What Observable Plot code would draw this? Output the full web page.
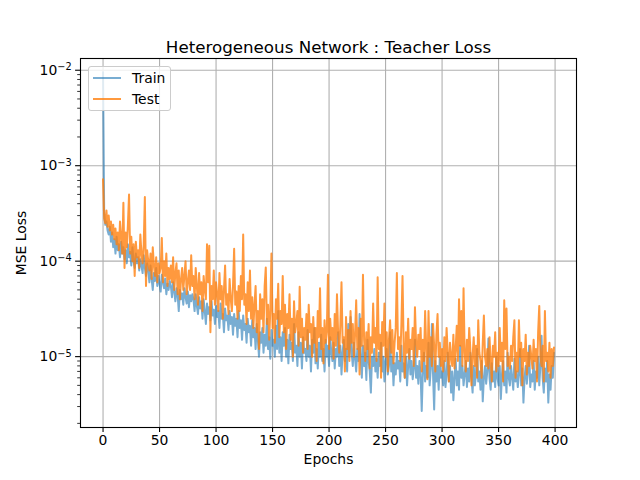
<!DOCTYPE html>
<html>
<head>
<meta charset="utf-8">
<script src="https://cdn.jsdelivr.net/npm/d3@7"></script>
<script src="https://cdn.jsdelivr.net/npm/@observablehq/plot@0.6"></script>
<style>
  html, body { margin: 0; padding: 0; background: #fff; }
  #wrap { position: relative; width: 640px; height: 480px; font-family: "DejaVu Sans", sans-serif; }
  #legend {
    position: absolute; left: 88px; top: 66px; width: 83px; height: 45px;
    background: rgba(255,255,255,0.8); border: 1px solid #cccccc; border-radius: 3px;
    box-sizing: border-box; font-size: 13.9px; color: #000;
  }
  .row { position: absolute; left: 4px; height: 16px; display: flex; align-items: center; }
  .sw { width: 28px; height: 0; border-top: 2px solid; margin-right: 11px; }
</style>
</head>
<body>
<div id="wrap"></div>
<script>
// ---- data (loss values in units of 1e-6) ----
const seriesNames = ["Train", "Test"];
const seriesColors = ["#1f77b4", "#ff7f0e"];
const unit = 1e-6;

const trainLoss = [
  9500, 320, 240, 260, 210, 190, 230, 160, 200, 140, 170, 120, 180, 130, 150, 110, 160, 120, 140, 105,
  130, 95, 150, 110, 125, 90, 140, 100, 85, 120, 95, 110, 80, 105, 90, 75, 115, 85, 70, 95,
  80, 60, 90, 65, 50, 75, 62, 85, 55, 70, 58, 48, 72, 60, 52, 66, 45, 58, 50, 62,
  55, 42, 60, 48, 38, 52, 44, 30, 50, 40, 46, 35, 52, 42, 36, 48, 33, 44, 38, 45,
  40, 30, 45, 34, 28, 42, 32, 38, 25, 40, 30, 22, 36, 28, 33, 24, 38, 27, 31, 22,
  34, 26, 30, 20, 36, 25, 28, 18, 32, 24, 27, 19, 30, 22, 26, 17, 28, 21, 25, 16,
  30, 20, 24, 15, 27, 19, 22, 14, 25, 18, 21, 13, 24, 16, 20, 12, 22, 15, 10, 18,
  14, 20, 11, 17, 13, 25, 12, 16, 9.5, 19, 13, 15, 10, 21, 12, 30, 11, 16, 9, 18,
  13, 20, 10, 15, 8.5, 17, 12, 14, 9, 22, 11, 13, 8, 18, 10, 14, 7.5, 16, 11, 12,
  9, 19, 10, 13, 7, 15, 11, 20, 8.5, 12, 7.5, 14, 10, 17, 9, 12, 7, 15, 10, 13,
  8, 16, 11, 9, 14, 7.5, 12, 10, 18, 8, 13, 6.5, 11, 15, 9, 12, 7, 22, 10, 26,
  11, 8, 14, 9.5, 7, 12, 9, 28, 10, 6, 13, 8, 11, 5.7, 15, 9, 7, 4.2, 10, 8,
  12, 7, 9.5, 6, 11, 8, 14, 7, 10, 5.5, 9, 12, 6.5, 8, 18, 7, 10, 5, 8.5, 6.5,
  11, 7.5, 9, 5.5, 13, 7, 8.5, 6, 10, 5, 8, 12, 6.5, 9, 5.8, 7.5, 15, 6, 8, 5.2,
  9, 6.5, 2.7, 7, 11, 5.5, 8, 6, 14, 5, 7.5, 22, 6.5, 2.8, 9, 5.5, 8, 4.5, 10, 6,
  7, 5, 9, 4.8, 6.5, 11, 5.5, 8, 4.2, 7, 3.5, 6, 9.5, 5, 7, 4.5, 13, 6, 8, 5,
  6.5, 9, 4.8, 7.5, 5.5, 11, 6, 4.2, 8, 5, 6.5, 12, 5.5, 7, 4.5, 9, 3.4, 6, 8, 5.2,
  7, 15.5, 6, 4.5, 8.5, 5.5, 7, 4.8, 10, 6, 5, 8, 3.6, 6.5, 9, 5, 7, 4.2, 11, 6,
  5, 8, 6, 4.5, 9.5, 5.5, 7, 4.8, 6.5, 12, 5, 7.5, 3.3, 6, 8, 5.2, 7, 13, 4.8, 6.5,
  5.5, 9, 4.5, 7, 6, 10, 5, 8, 16.5, 6, 4.2, 7.5, 5.5, 9, 3.3, 6.5, 4.5, 8, 6, 11
];

const testLoss = [
  720, 280, 250, 340, 230, 300, 210, 260, 190, 240, 170, 220, 150, 200, 130, 260, 180, 120, 410, 85,
  200, 140, 240, 500, 120, 180, 100, 150, 70, 160, 110, 130, 85, 190, 120, 95, 150, 470, 55, 130,
  100, 80, 120, 65, 140, 90, 70, 110, 60, 95, 75, 85, 175, 60, 100, 70, 120, 55, 85, 65,
  90, 60, 110, 50, 75, 95, 45, 80, 40, 65, 85, 50, 70, 100, 45, 60, 80, 50, 115, 55,
  70, 40, 85, 55, 35, 75, 45, 60, 30, 70, 50, 40, 150, 60, 145, 18, 55, 40, 80, 35,
  60, 45, 30, 75, 40, 55, 25, 50, 90, 35, 45, 28, 65, 40, 30, 55, 135, 35, 48, 25,
  55, 30, 70, 40, 190, 35, 45, 22, 60, 30, 80, 25, 42, 20, 35, 55, 18, 30, 12, 45,
  25, 40, 18, 55, 86, 22, 35, 15, 30, 120, 20, 28, 14, 40, 25, 58, 16, 30, 22, 70,
  18, 35, 12, 28, 20, 45, 15, 25, 10, 38, 18, 22, 30, 13, 54, 16, 25, 11, 20, 15,
  28, 12, 35, 18, 22, 10, 26, 14, 20, 9, 30, 16, 52, 12, 20, 8.5, 24, 14, 18, 72,
  12, 25, 15, 20, 9.5, 28, 13, 45, 18, 11, 22, 60, 14, 16, 7, 26, 12, 19, 9, 30,
  14, 22, 10, 17, 39, 12, 20, 6.5, 25, 13, 72, 15, 9, 18, 12, 22, 7.5, 16, 11, 36,
  14, 20, 9, 68, 12, 17, 6, 23, 13, 36, 10, 18, 7, 15, 24, 11, 19, 8.5, 14, 20,
  75, 12, 16, 9, 22, 70, 13, 6, 18, 11, 25, 9.5, 15, 12, 20, 8, 33, 14, 10, 17,
  12, 20, 7, 15, 9, 30, 12, 5.8, 30, 10, 16, 8, 22, 13, 7, 17, 28, 10, 14, 8,
  12, 7, 16, 9, 20, 11, 5.5, 14, 10, 8, 17, 7.5, 12, 21, 9, 40, 13, 30, 8, 52,
  11, 7, 15, 9, 20, 12, 5, 10, 16, 8, 13, 6, 24, 11, 9, 6, 14, 27, 10, 8,
  12, 7.5, 16, 9, 5.5, 13, 10, 18, 7, 11, 8, 20, 9, 14, 5.5, 39, 12, 32, 8, 10,
  7.5, 13, 9, 16, 24, 6, 11, 7, 24, 10, 14, 5, 12, 9, 17, 6.5, 11, 8, 13, 10,
  7.5, 15, 9, 12, 5.5, 18, 34, 10, 8, 13, 5.5, 30, 9, 11, 7, 14, 6, 12, 8, 12.5
];

const xTicks = [0, 50, 100, 150, 200, 250, 300, 350, 400];
const yTicks = [1e-5, 1e-4, 1e-3, 1e-2];
const yTickBase = "10";
const yTickExponents = ["\u22125", "\u22124", "\u22123", "\u22122"];
const titleText = "Heterogeneous Network : Teacher Loss";
const xLabel = "Epochs";
const yLabel = "MSE Loss";

// ---- build tables ----
const train = trainLoss.map((v, i) => ({epoch: i, loss: v * unit}));
const test = testLoss.map((v, i) => ({epoch: i, loss: v * unit}));
const n = trainLoss.length;
const xPad = (n - 1) * 0.05;

const yMinor = [];
for (let e = -6; e <= -2; e++) for (let m = 2; m <= 9; m++) {
  const v = m * Math.pow(10, e);
  if (v > 1.81e-6 && v < 0.01327) yMinor.push(v);
}

const yIndex = d => {
  let k = 0;
  for (let i = 1; i < yTicks.length; i++) {
    if (Math.abs(Math.log10(d) - Math.log10(yTicks[i])) < Math.abs(Math.log10(d) - Math.log10(yTicks[k]))) k = i;
  }
  return k;
};
const yFmt = d => yTickBase + "^" + yTickExponents[yIndex(d)];

const font = "DejaVu Sans, sans-serif";

const chart = Plot.plot({
  width: 640,
  height: 480,
  marginLeft: 80,
  marginRight: 64,
  marginTop: 58,
  marginBottom: 53,
  style: {fontFamily: font, fontSize: "13.9px", color: "#000", background: "#fff"},
  x: {domain: [-xPad, n - 1 + xPad]},
  y: {type: "log", domain: [1.81e-6, 0.01327]},
  marks: [
    Plot.gridX(xTicks, {stroke: "#b0b0b0", strokeOpacity: 1, strokeWidth: 1.1}),
    Plot.gridY(yTicks, {stroke: "#b0b0b0", strokeOpacity: 1, strokeWidth: 1.1}),
    Plot.lineY(train, {x: "epoch", y: "loss", stroke: seriesColors[0], strokeOpacity: 0.6, strokeWidth: 2}),
    Plot.lineY(test, {x: "epoch", y: "loss", stroke: seriesColors[1], strokeOpacity: 0.8, strokeWidth: 2}),
    Plot.frame({stroke: "#000", strokeWidth: 1.1}),
    Plot.axisY({ticks: yMinor, tickSize: 2.8, tickFormat: () => "", label: null, strokeWidth: 0.8}),
    Plot.axisX({ticks: xTicks, tickSize: 4.9, tickPadding: 3, tickFormat: d => String(d),
      label: xLabel, labelAnchor: "center", labelArrow: "none", labelOffset: 36,
      fontSize: 13.9, strokeWidth: 1.1}),
    Plot.axisY({ticks: yTicks, tickSize: 4.9, tickPadding: 4, tickFormat: yFmt,
      label: yLabel, labelAnchor: "center", labelArrow: "none", labelOffset: 64,
      fontSize: 13.9, strokeWidth: 1.1}),
    Plot.text([titleText], {frameAnchor: "top", dy: -17, fontSize: 16.7, fill: "#000"})
  ]
});

// render "10^-k" tick labels with a real superscript tspan
chart.querySelectorAll("text").forEach(t => {
  const s = t.textContent;
  if (s.startsWith(yTickBase + "^")) {
    const exp = s.slice(yTickBase.length + 1);
    t.textContent = "";
    const ns = "http://www.w3.org/2000/svg";
    const a = document.createElementNS(ns, "tspan");
    a.textContent = yTickBase;
    const b = document.createElementNS(ns, "tspan");
    b.textContent = exp;
    b.setAttribute("dy", "-0.45em");
    b.setAttribute("font-size", "70%");
    t.appendChild(a);
    t.appendChild(b);
  }
});

const wrap = document.getElementById("wrap");
wrap.appendChild(chart);

// legend (HTML overlay, like matplotlib's upper-left legend)
const lg = document.createElement("div");
lg.id = "legend";
seriesNames.forEach((name, i) => {
  const r = document.createElement("div");
  r.className = "row";
  r.style.top = (3 + i * 20.5) + "px";
  const s = document.createElement("div");
  s.className = "sw";
  s.style.borderTopColor = seriesColors[i];
  s.style.opacity = i === 0 ? 0.6 : 0.8;
  const t = document.createElement("span");
  t.textContent = name;
  r.appendChild(s);
  r.appendChild(t);
  lg.appendChild(r);
});
wrap.appendChild(lg);
</script>
</body>
</html>
